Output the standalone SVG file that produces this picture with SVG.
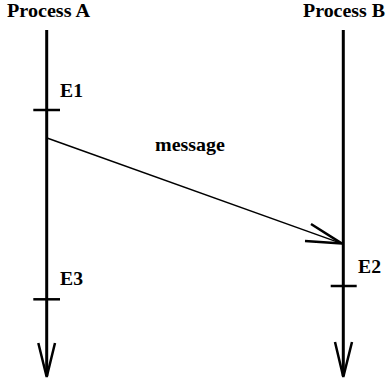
<svg xmlns="http://www.w3.org/2000/svg" width="386" height="383" viewBox="0 0 386 383">
<style>
.life{stroke:#000;stroke-width:3;fill:none}
.tick{stroke:#000;stroke-width:2.5;fill:none}
.msg{stroke:#000;stroke-width:1.5;fill:none}
.head{stroke:#000;stroke-width:2.5;fill:none;stroke-linejoin:miter}
</style>
<rect width="386" height="383" fill="#fff"/>
<g font-family="Liberation Serif, Times New Roman, DejaVu Serif, serif" font-weight="bold" font-size="19" fill="#000">
<g id="processA">
<text x="7" y="17" textLength="83" lengthAdjust="spacingAndGlyphs">Process A</text>
<line class="life" x1="46.7" y1="30" x2="46.7" y2="376"/>
<polyline class="head" points="38.3,343 46.7,377 55,343"/>
</g>
<g id="processB">
<text x="303" y="17" textLength="82" lengthAdjust="spacingAndGlyphs">Process B</text>
<line class="life" x1="343.3" y1="30" x2="343.3" y2="376"/>
<polyline class="head" points="335,342 343.3,377 352,342"/>
</g>
<g id="E1">
<line class="tick" x1="33.3" y1="110" x2="60" y2="110"/>
<text x="60" y="97" textLength="23" lengthAdjust="spacingAndGlyphs">E1</text>
</g>
<g id="E3">
<line class="tick" x1="33.3" y1="299.3" x2="60" y2="299.3"/>
<text x="60" y="285" textLength="23" lengthAdjust="spacingAndGlyphs">E3</text>
</g>
<g id="E2">
<line class="tick" x1="330.7" y1="286" x2="356.7" y2="286"/>
<text x="358" y="273" textLength="23" lengthAdjust="spacingAndGlyphs">E2</text>
</g>
<g id="connectors">
<line class="msg" x1="47" y1="138" x2="342" y2="243.6"/>
<polyline class="head" points="311,224 342,243.6 305,241"/>
<text x="155" y="151" textLength="70" lengthAdjust="spacingAndGlyphs">message</text>
</g>
</g>
</svg>
